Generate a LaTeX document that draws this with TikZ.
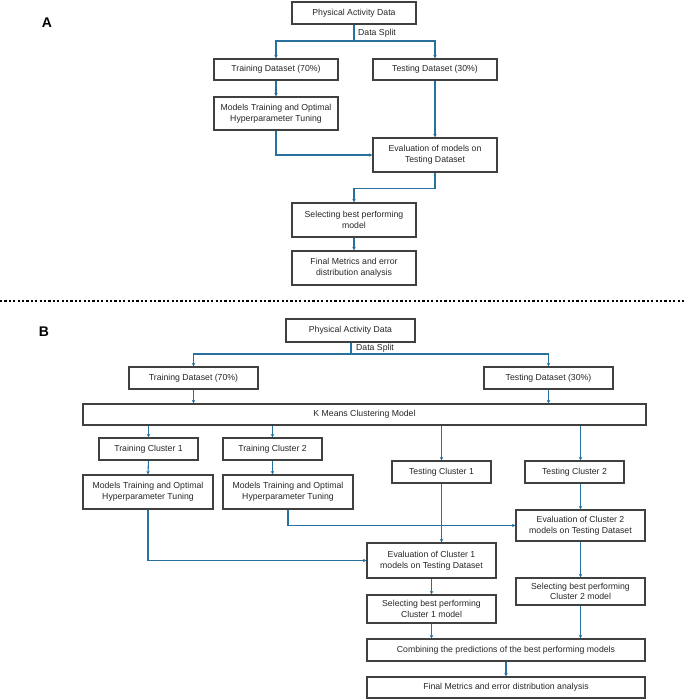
\documentclass[tikz,border=0pt]{standalone}
\usepackage{fontspec}
\setmainfont{Liberation Sans}
\usetikzlibrary{arrows.meta}
\definecolor{linkblue}{RGB}{40,112,158}
\definecolor{boxgray}{RGB}{64,64,64}
\tikzset{
  box/.style={draw=boxgray, line width=1.2pt, rectangle, align=center, inner sep=1pt,
    font=\fontsize{8.7}{10.6}\selectfont, text=black!85},
  arr/.style={draw=linkblue, line width=1.1pt, -{Stealth[length=3.5pt,width=3.5pt]}},
  lnk/.style={draw=linkblue, line width=1.1pt},
  lbl/.style={font=\fontsize{8.7}{10}\selectfont, text=black!85, inner sep=0pt, anchor=west},
  panel/.style={font=\fontsize{14}{14}\selectfont\bfseries, inner sep=0pt}
}
\begin{document}
\begin{tikzpicture}[x=1pt,y=-1pt]
\useasboundingbox (0,0) rectangle (686,700);
% ---------------- Part A ----------------
\node[panel] (labA) at (47,23) {A};
\node[box, minimum width=124pt, minimum height=22pt] (pA) at (354,13) {Physical Activity Data};
\node[box, minimum width=124pt, minimum height=21pt] (trA) at (276,69.5) {Training Dataset (70\%)};
\node[box, minimum width=124pt, minimum height=21pt] (teA) at (435,69.5) {Testing Dataset (30\%)};
\node[box, minimum width=124pt, minimum height=33pt] (mtA) at (276,113.5) {Models Training and Optimal\\Hyperparameter Tuning};
\node[box, minimum width=124pt, minimum height=34pt] (evA) at (435,155) {Evaluation of models on\\Testing Dataset};
\node[box, minimum width=124pt, minimum height=34pt] (selA) at (354,220) {Selecting best performing\\model};
\node[box, minimum width=124pt, minimum height=34pt] (finA) at (354,268) {Final Metrics and error\\distribution analysis};
\coordinate (splitA) at (354,41);
\node[lbl] (dsA) at (358,33) {Data Split};
\draw[lnk] (pA.south) -- (splitA);
\draw[arr] (splitA) -| (trA.north);
\draw[arr] (splitA) -| (teA.north);
\draw[arr] (trA.south) -- (mtA.north);
\draw[arr] (teA.south) -- (evA.north);
\draw[arr] (mtA.south) |- (evA.west);
\draw[arr] (evA.south) -- ++(0,16) -| (selA.north);
\draw[arr] (selA.south) -- (finA.north);
% ---------------- separator ----------------
\coordinate (sepL) at (0,301);
\coordinate (sepR) at (686,301);
\draw[line width=2.2pt, dash pattern=on 2.2pt off 2.2pt, black] (sepL) -- (sepR);
% ---------------- Part B ----------------
\node[panel] (labB) at (44,332) {B};
\node[box, minimum width=129pt, minimum height=23pt] (pB) at (350.5,330.5) {Physical Activity Data};
\coordinate (splitB) at (351,354);
\node[lbl] (dsB) at (356,348.5) {Data Split};
\node[box, minimum width=129pt, minimum height=22pt] (trB) at (193.5,378) {Training Dataset (70\%)};
\node[box, minimum width=129pt, minimum height=22pt] (teB) at (548.5,378) {Testing Dataset (30\%)};
\node[box, minimum width=563pt, minimum height=21pt] (km) at (364.5,414.5) {K Means Clustering Model};
\node[box, minimum width=99pt, minimum height=22pt] (tc1) at (148.5,449) {Training Cluster 1};
\node[box, minimum width=99pt, minimum height=22pt] (tc2) at (272.5,449) {Training Cluster 2};
\node[box, minimum width=99pt, minimum height=22pt] (ts1) at (441.5,472) {Testing Cluster 1};
\node[box, minimum width=99pt, minimum height=22pt] (ts2) at (574.5,472) {Testing Cluster 2};
\node[box, minimum width=130pt, minimum height=34pt] (mt1) at (148,492) {Models Training and Optimal\\Hyperparameter Tuning};
\node[box, minimum width=130pt, minimum height=34pt] (mt2) at (288,492) {Models Training and Optimal\\Hyperparameter Tuning};
\node[box, minimum width=129pt, minimum height=31pt] (ev2) at (580.5,525.5) {Evaluation of Cluster 2\\models on Testing Dataset};
\node[box, minimum width=129pt, minimum height=35pt] (ev1) at (431.5,560.5) {Evaluation of Cluster 1\\models on Testing Dataset};
\node[box, minimum width=129pt, minimum height=28pt] (sel1) at (431.5,609) {Selecting best performing\\Cluster 1 model};
\node[box, minimum width=129pt, minimum height=27pt] (sel2) at (580.5,591.5) {Selecting best performing\\Cluster 2 model};
\node[box, minimum width=278pt, minimum height=22pt] (comb) at (506,650) {Combining the predictions of the best performing models};
\node[box, minimum width=278pt, minimum height=21pt] (finB) at (506,687.5) {Final Metrics and error distribution analysis};
\draw[lnk] (pB.south -| splitB) -- (splitB);
\draw[arr] (splitB) -| (trB.north);
\draw[arr] (splitB) -| (teB.north);
\draw[arr] (trB.south) -- (trB.south |- km.north);
\draw[arr] (teB.south) -- (teB.south |- km.north);
\draw[arr] (tc1.north |- km.south) -- (tc1.north);
\draw[arr] (tc2.north |- km.south) -- (tc2.north);
\draw[arr] (ts1.north |- km.south) -- (ts1.north);
\draw[arr] (ev2.north |- km.south) -- (ev2.north |- ts2.north);
\draw[arr] (tc1.south) -- (mt1.north);
\draw[arr] (tc2.south) -- (tc2.south |- mt2.north);
\draw[arr] (mt2.south) |- (ev2.west);
\draw[arr] (ts1.south) -- (ts1.south |- ev1.north);
\draw[arr] (ev2.north |- ts2.south) -- (ev2.north);
\draw[arr] (mt1.south) |- (ev1.west);
\draw[arr] (ev1.south) -- (sel1.north);
\draw[arr] (ev2.south) -- (sel2.north);
\draw[arr] (sel1.south) -- (sel1.south |- comb.north);
\draw[arr] (sel2.south) -- (sel2.south |- comb.north);
\draw[arr] (comb.south) -- (finB.north);
\end{tikzpicture}
\end{document}
